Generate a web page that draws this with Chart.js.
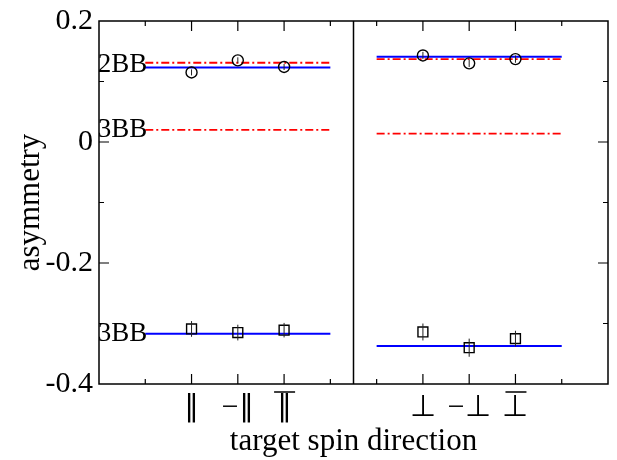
<!DOCTYPE html>
<html>
<head>
<meta charset="utf-8">
<title>asymmetry vs target spin direction</title>
<script src="https://cdn.jsdelivr.net/npm/chart.js@4.4.0/dist/chart.umd.min.js"></script>
<style>
  html, body { margin: 0; padding: 0; background: #fff; }
  #wrap { width: 617px; height: 460px; }
</style>
</head>
<body>
<div id="wrap"><canvas id="spinChart" width="617" height="460"></canvas></div>
<script>
/* values */
var tickPos = [2, 3, 4, 7, 8, 9];
var tickLabels = ['\u2225', '\u2212\u2225', '\u2225', '\u22A5', '\u2212\u22A5', '\u22A5'];
var overlined = [false, false, true, false, false, true];

var yTickValues = [-0.4, -0.2, 0, 0.2];
var yTickLabels = ['-0.4', '-0.2', '0', '0.2'];

// circles (upper group) and squares (lower group)
var circleX = [2, 3, 4, 7, 8, 9];
var circleY = [0.115, 0.135, 0.124, 0.143, 0.130, 0.137];
var circleErr = [0.005, 0.005, 0.005, 0.006, 0.006, 0.006];

var squareX = [2, 3, 4, 7, 8, 9];
var squareY = [-0.309, -0.315, -0.311, -0.314, -0.340, -0.325];
var squareErr = [0.013, 0.013, 0.012, 0.014, 0.015, 0.013];

// fitted levels (blue) and 2BB / 3BB predictions (red dash-dot) per panel
var leftSpan = [1, 5];
var rightSpan = [6, 10];
var blueLeft = [0.123, -0.317];
var blueRight = [0.141, -0.337];
var redLeft = [0.131, 0.020];
var redRight = [0.137, 0.014];
var panelSplit = 5.5;

var bbLabels = ['2BB', '3BB', '3BB'];
var bbValues = [0.127, 0.020, -0.317];

var serif = '"Liberation Serif", "Times New Roman", serif';

/* builds a flat line between two x values */
function level(span, v, color, dashed) {
    return {
        type: 'line',
        data: [{x: span[0], y: v}, {x: span[1], y: v}],
        borderColor: color,
        borderWidth: dashed ? 1.8 : 2,
        borderDash: dashed ? [8, 3, 2, 3] : [],
        pointRadius: 0,
        fill: false
    };
}

function points(xs, ys, style, r) {
    return {
        type: 'scatter',
        data: xs.map((x, i) => ({x: x, y: ys[i]})),
        pointStyle: style,
        pointRadius: r,
        borderColor: '#000',
        borderWidth: 1.4,
        backgroundColor: 'rgba(0,0,0,0)'
    };
}

var datasets = [
    points(circleX, circleY, 'circle', 5.5),
    points(squareX, squareY, 'rect', 7)
];
blueLeft.forEach(v => datasets.push(level(leftSpan, v, '#0000ff', false)));
blueRight.forEach(v => datasets.push(level(rightSpan, v, '#0000ff', false)));
redLeft.forEach(v => datasets.push(level(leftSpan, v, '#ff0000', true)));
redRight.forEach(v => datasets.push(level(rightSpan, v, '#ff0000', true)));
// panel divider
datasets.push({
    type: 'line',
    data: [{x: panelSplit, y: -0.4}, {x: panelSplit, y: 0.2}],
    borderColor: '#000', borderWidth: 1.5, pointRadius: 0
});

/* frame, inward ticks, error bars, overlines and the 2BB/3BB tags */
const decorations = {
    id: 'decorations',
    afterDatasetsDraw(chart) {
        const {ctx, chartArea: a, scales: {x, y}} = chart;
        ctx.save();
        // error bars
        ctx.strokeStyle = '#222';
        ctx.lineWidth = 1;
        ctx.beginPath();
        circleX.forEach((cx, i) => {
            const px = x.getPixelForValue(cx);
            ctx.moveTo(px, y.getPixelForValue(circleY[i] - circleErr[i]));
            ctx.lineTo(px, y.getPixelForValue(circleY[i] + circleErr[i]));
        });
        squareX.forEach((sx, i) => {
            const px = x.getPixelForValue(sx);
            ctx.moveTo(px, y.getPixelForValue(squareY[i] - squareErr[i]));
            ctx.lineTo(px, y.getPixelForValue(squareY[i] + squareErr[i]));
        });
        ctx.stroke();

        // frame
        ctx.strokeStyle = '#000';
        ctx.lineWidth = 1.5;
        ctx.strokeRect(a.left, a.top, a.right - a.left, a.bottom - a.top);

        // inward ticks
        ctx.lineWidth = 1.2;
        ctx.beginPath();
        for (let k = 1; k < 11; k++) {
            const px = x.getPixelForValue(k);
            const len = tickPos.includes(k) ? 10 : 5;
            ctx.moveTo(px, a.bottom); ctx.lineTo(px, a.bottom - len);
            ctx.moveTo(px, a.top); ctx.lineTo(px, a.top + len);
        }
        for (let k = -3; k <= 1; k++) {
            const py = y.getPixelForValue(k / 10);
            const len = (k % 2 === 0) ? 10 : 5;
            ctx.moveTo(a.left, py); ctx.lineTo(a.left + len, py);
            ctx.moveTo(a.right, py); ctx.lineTo(a.right - len, py);
        }
        ctx.stroke();

        // overlines on the "anti" labels
        ctx.lineWidth = 1.3;
        ctx.beginPath();
        tickPos.forEach((t, i) => {
            if (!overlined[i]) return;
            const px = x.getPixelForValue(t);
            ctx.moveTo(px - 10, a.bottom + 8);
            ctx.lineTo(px + 11, a.bottom + 8);
        });
        ctx.stroke();

        // 2BB / 3BB tags at the start of the left lines
        ctx.fillStyle = '#000';
        ctx.font = '27px ' + serif;
        ctx.textAlign = 'right';
        ctx.textBaseline = 'middle';
        bbLabels.forEach((t, i) => {
            ctx.fillText(t, x.getPixelForValue(leftSpan[0]) + 2, y.getPixelForValue(bbValues[i]));
        });
        ctx.restore();
    }
};

const ctx = document.getElementById('spinChart').getContext('2d');
const spinChart = new Chart(ctx, {
    data: { datasets: datasets },
    options: {
        responsive: false,
        animation: false,
        layout: { padding: { top: 20, right: 9 } },
        plugins: {
            legend: { display: false },
            tooltip: { enabled: false }
        },
        scales: {
            x: {
                type: 'linear',
                min: 0,
                max: 11,
                afterBuildTicks: (s) => { s.ticks = tickPos.map(v => ({value: v})); },
                afterFit: (s) => { s.height = 76; },
                ticks: {
                    autoSkip: false,
                    maxRotation: 0,
                    padding: 6,
                    color: '#000',
                    font: { family: serif, size: 30 },
                    callback: (v) => tickLabels[tickPos.indexOf(v)]
                },
                grid: { display: false, drawTicks: false },
                border: { display: false },
                title: {
                    display: true,
                    text: 'target spin direction',
                    color: '#000',
                    font: { family: serif, size: 31 },
                    padding: { top: 0, bottom: 0 }
                }
            },
            y: {
                type: 'linear',
                min: -0.4,
                max: 0.2,
                afterBuildTicks: (s) => { s.ticks = yTickValues.map(v => ({value: v})); },
                afterFit: (s) => { s.width = 99; },
                ticks: {
                    padding: 6,
                    color: '#000',
                    font: { family: serif, size: 30, lineHeight: 1 },
                    callback: (v) => yTickLabels[yTickValues.indexOf(v)]
                },
                grid: { display: false, drawTicks: false },
                border: { display: false },
                title: {
                    display: true,
                    text: 'asymmetry',
                    color: '#000',
                    font: { family: serif, size: 31 },
                    padding: { top: 12, bottom: 0 }
                }
            }
        }
    },
    plugins: [decorations]
});
</script>
</body>
</html>
